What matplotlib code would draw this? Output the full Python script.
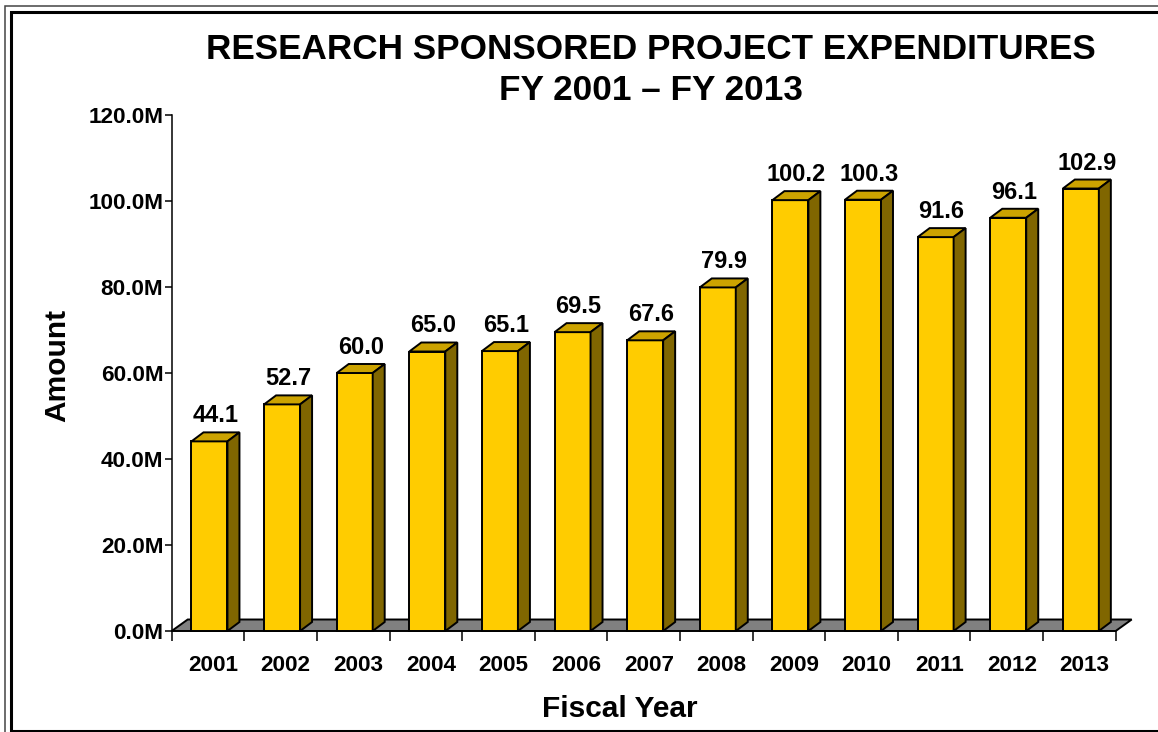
import numpy as np
import matplotlib
matplotlib.use('Agg')
import matplotlib.pyplot as plt
from matplotlib.patches import Polygon
from matplotlib.transforms import offset_copy

plt.rcParams['font.family'] = ['Liberation Sans', 'DejaVu Sans']
plt.rcParams['font.weight'] = 'bold'

years = ['2001', '2002', '2003', '2004', '2005', '2006', '2007',
         '2008', '2009', '2010', '2011', '2012', '2013']
amounts = [44.1, 52.7, 60.0, 65.0, 65.1, 69.5, 67.6,
           79.9, 100.2, 100.3, 91.6, 96.1, 102.9]
yticks = [0, 20, 40, 60, 80, 100, 120]
title1 = 'RESEARCH SPONSORED PROJECT EXPENDITURES'
title2 = 'FY 2001 \u2013 FY 2013'

W, H = 1158, 732
fig = plt.figure(figsize=(W/100.0, H/100.0), dpi=100, facecolor='w')

# plot area in pixels
x0, x1 = 171.7, 1115.7
y0, y1 = 631.0, 115.0
ax = fig.add_axes([x0/W, (H-y0)/H, (x1-x0)/W, (y0-y1)/H])
ax.set_xlim(0, len(years))
ax.set_ylim(0, 120)
ax.patch.set_visible(False)

pxx = (x1-x0)/len(years)   # pixels per category
pxy = (y0-y1)/120.0        # pixels per 1M

# 3d offsets (bar depth and floor depth)
bdx, bdy = 12.0/pxx, 9.0/pxy
fdx, fdy = 16.0/pxx, 11.5/pxy
bw = 36.0/pxx

front_c = '#FFCC00'
top_c = '#CCA300'
side_c = '#806600'
ec = 'k'
elw = 1.4

n = len(years)
floor = Polygon([(0, 0), (n, 0), (n+fdx, fdy), (fdx, fdy)], closed=True,
                facecolor='#808080', edgecolor=ec, lw=elw, clip_on=False, zorder=2)
ax.add_patch(floor)

lab_tr = offset_copy(ax.transData, fig=fig, x=0, y=10, units='dots')
for i, v in enumerate(amounts):
    xl = i + 0.52 - bw/2.0
    xr = xl + bw
    front = Polygon([(xl, 0), (xr, 0), (xr, v), (xl, v)], closed=True,
                    facecolor=front_c, edgecolor=ec, lw=elw, clip_on=False, zorder=3)
    top = Polygon([(xl, v), (xr, v), (xr+bdx, v+bdy), (xl+bdx, v+bdy)], closed=True,
                  facecolor=top_c, edgecolor=ec, lw=elw, clip_on=False, zorder=3)
    side = Polygon([(xr, 0), (xr+bdx, bdy), (xr+bdx, v+bdy), (xr, v)], closed=True,
                   facecolor=side_c, edgecolor=ec, lw=elw, clip_on=False, zorder=3)
    for p in (front, top, side):
        ax.add_patch(p)
    ax.text(xl + (bw+bdx)/2.0, v+bdy, '%.1f' % v, transform=lab_tr,
            ha='center', va='baseline', fontsize=17, fontweight='bold', zorder=4)

# axes
for s in ['top', 'right', 'bottom']:
    ax.spines[s].set_visible(False)
ax.spines['left'].set_linewidth(1.1)
ax.set_yticks(yticks)
ax.set_yticklabels(['%.1fM' % t for t in yticks], fontsize=16.2, fontweight='bold')
ax.tick_params(axis='y', direction='out', length=5, width=1.1, pad=1)
ax.set_xticks(np.arange(n+1))
ax.set_xticklabels([])
ax.tick_params(axis='x', direction='out', length=7, width=1.1)

yr_tr = offset_copy(ax.get_xaxis_transform(), fig=fig, x=0, y=-40, units='dots')
for i, yr in enumerate(years):
    ax.text(i + 0.5 + 0.07, 0, yr, transform=yr_tr, ha='center', va='baseline',
            fontsize=16.2, fontweight='bold')

# overlay in pixel coords for titles and frame
ov = fig.add_axes([0, 0, 1, 1])
ov.set_xlim(0, W)
ov.set_ylim(H, 0)
ov.axis('off')
ov.text(651, 59, title1, ha='center', va='baseline', fontsize=25.3, fontweight='bold')
ov.text(651, 100, title2, ha='center', va='baseline', fontsize=25.3, fontweight='bold')
ov.text(57.5, 365, 'Amount', rotation=90, ha='center', va='center',
        fontsize=21.5, fontweight='bold')
ov.text(620, 717, 'Fiscal Year', ha='center', va='baseline',
        fontsize=21.5, fontweight='bold')

ov.plot([5, 5, W], [H, 6, 6], color='#444444', lw=1.1, solid_joinstyle='miter')
ov.plot([W, 11, 11, W], [730.5, 730.5, 12, 12], color='k', lw=2.2,
        solid_joinstyle='miter')

fig.savefig('out.png', dpi=100)
